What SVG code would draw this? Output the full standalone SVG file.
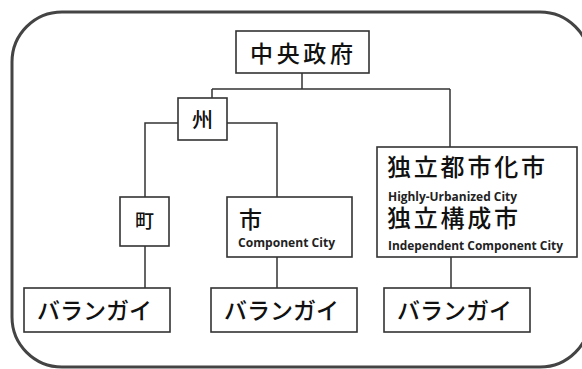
<svg xmlns="http://www.w3.org/2000/svg" width="582" height="369" viewBox="0 0 582 369">
<style>
.box{fill:#fff;stroke:#333;stroke-width:1.6}
.ln{fill:none;stroke:#333;stroke-width:1.5}
.jp{font-family:"Noto Sans CJK JP","Noto Sans CJK SC",sans-serif;font-weight:500;fill:#111}
.en{font-family:"Open Sans","Liberation Sans",sans-serif;font-weight:700;fill:#222;font-size:12px}
</style>
<rect x="0" y="0" width="582" height="369" fill="#fff"/>
<rect x="12" y="12" width="578" height="355" rx="50" ry="50" fill="#fff" stroke="#444" stroke-width="3"/>
<g id="connectors">
<path class="ln" d="M302,73 V89 M212,89 H450 M212,89 V98 M450,89 V147"/>
<path class="ln" d="M178,123 H145 V197 M227,123 H277 V197"/>
<path class="ln" d="M145,246 V288 M277,257 V288 M451,257 V288"/>
</g>
<g id="central">
<rect class="box" x="236" y="31" width="133" height="42"/>
<text class="jp" x="250" y="62" font-size="23" textLength="103" lengthAdjust="spacing">中央政府</text>
</g>
<g id="province">
<rect class="box" x="178" y="98" width="49" height="42"/>
<text class="jp" x="202.5" y="127" font-size="21" text-anchor="middle">州</text>
</g>
<g id="town">
<rect class="box" x="120" y="197" width="49" height="49"/>
<text class="jp" x="144.5" y="228" font-size="19" text-anchor="middle">町</text>
</g>
<g id="city">
<rect class="box" x="227" y="197" width="125" height="60"/>
<text class="jp" x="239" y="228" font-size="23">市</text>
<text class="en" x="238" y="247" textLength="97" lengthAdjust="spacingAndGlyphs">Component City</text>
</g>
<g id="huc">
<rect class="box" x="377" y="147" width="200" height="110"/>
<text><tspan class="jp" x="387" y="176" font-size="24" textLength="158" lengthAdjust="spacing">独立都市化市</tspan><tspan class="en" x="388" y="201" textLength="129" lengthAdjust="spacingAndGlyphs">Highly-Urbanized City</tspan><tspan class="jp" x="387" y="227" font-size="24" textLength="131" lengthAdjust="spacing">独立構成市</tspan><tspan class="en" x="388" y="250" textLength="175" lengthAdjust="spacingAndGlyphs">Independent Component City</tspan></text>
</g>
<g id="barangay1">
<rect class="box" x="24" y="288" width="146" height="44"/>
<text class="jp" x="37" y="319" font-size="23" textLength="115" lengthAdjust="spacing">バランガイ</text>
</g>
<g id="barangay2">
<rect class="box" x="211" y="288" width="146" height="44"/>
<text class="jp" x="224" y="319" font-size="23" textLength="115" lengthAdjust="spacing">バランガイ</text>
</g>
<g id="barangay3">
<rect class="box" x="384" y="288" width="146" height="44"/>
<text class="jp" x="397" y="319" font-size="23" textLength="115" lengthAdjust="spacing">バランガイ</text>
</g>
</svg>
